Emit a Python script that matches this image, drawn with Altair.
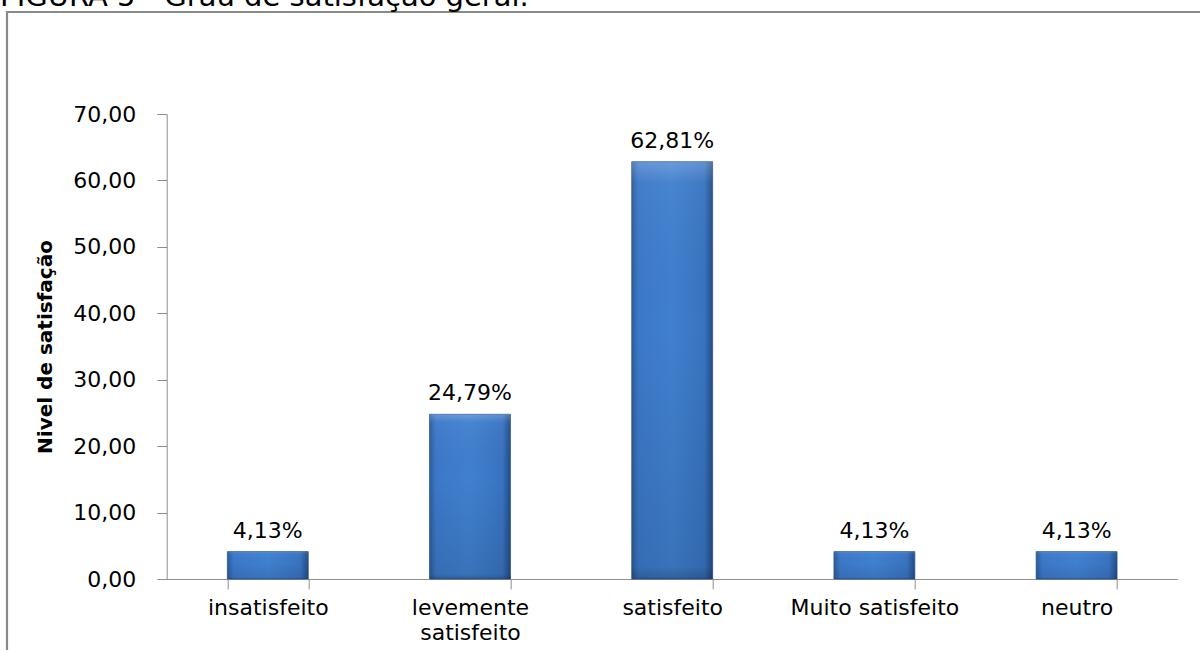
import altair as alt
import pandas as pd

categories = ["insatisfeito", "levemente satisfeito", "satisfeito", "Muito satisfeito", "neutro"]
values = [4.13, 24.79, 62.81, 4.13, 4.13]
y_ticks = [0, 10, 20, 30, 40, 50, 60, 70]
title_text = "FIGURA 5 - Grau de satisfação geral."
y_title = "Nivel de satisfação"

df = pd.DataFrame({"cat": categories, "val": values})

FONT = "DejaVu Sans"
W, H = 1011, 465
PL, PT = 166.7, 114

x_enc = alt.X(
    "cat:N",
    sort=categories,
    title=None,
    scale=alt.Scale(paddingInner=0.6, paddingOuter=0.3),
    axis=alt.Axis(
        labelAngle=0,
        labelFont=FONT,
        labelFontSize=22,
        labelColor="#000000",
        labelPadding=8,
        labelLineHeight=25,
        labelExpr="datum.value == 'levemente satisfeito' ? ['levemente', 'satisfeito'] : datum.value",
        tickBand="extent",
        tickSize=10,
        tickColor="#8f8f8f",
        domainColor="#8f8f8f",
        grid=False,
    ),
)
y_enc = alt.Y(
    "val:Q",
    title=y_title,
    scale=alt.Scale(domain=[0, 70], nice=False),
    axis=alt.Axis(
        values=y_ticks,
        labelExpr="replace(format(datum.value, '.2f'), '.', ',')",
        labelFont=FONT,
        labelFontSize=22,
        labelColor="#000000",
        labelPadding=21,
        tickSize=10,
        tickColor="#8f8f8f",
        domainColor="#8f8f8f",
        grid=False,
        titleFont=FONT,
        titleFontSize=20,
        titleFontWeight="bold",
        titleColor="#000000",
        titleAngle=-90,
        titleX=45 - PL,
        titleY=H / 2,
        titleAlign="center",
        titleBaseline="middle",
    ),
)

base = alt.Chart(df)

bars = base.mark_bar(
    color=alt.Gradient(
        gradient="linear",
        x1=0, x2=1, y1=0, y2=0,
        stops=[
            alt.GradientStop(color="#2d5c9a", offset=0),
            alt.GradientStop(color="#3c78c8", offset=0.08),
            alt.GradientStop(color="#4080cf", offset=0.5),
            alt.GradientStop(color="#3873c0", offset=0.9),
            alt.GradientStop(color="#234d86", offset=1),
        ],
    ),
    stroke="#2b5590",
    strokeWidth=0.8,
).encode(x=x_enc, y=y_enc)

shade = base.mark_bar(
    color=alt.Gradient(
        gradient="linear",
        x1=0, x2=0, y1=0, y2=1,
        stops=[
            alt.GradientStop(color="rgba(255,255,255,0.22)", offset=0),
            alt.GradientStop(color="rgba(255,255,255,0.04)", offset=0.05),
            alt.GradientStop(color="rgba(0,0,0,0.0)", offset=0.4),
            alt.GradientStop(color="rgba(0,0,0,0.10)", offset=0.97),
            alt.GradientStop(color="rgba(0,0,0,0.25)", offset=1),
        ],
    ),
).encode(x=alt.X("cat:N", sort=categories), y=alt.Y("val:Q"))

labels = base.transform_calculate(
    lbl="replace(format(datum.val, '.2f'), '.', ',') + '%'"
).mark_text(
    font=FONT, fontSize=22, color="#000000", baseline="alphabetic", dy=-14
).encode(x=alt.X("cat:N", sort=categories), y=alt.Y("val:Q"), text="lbl:N")

frame = alt.Chart(pd.DataFrame({"k": [0]})).mark_rect(
    filled=False, stroke="#8a8a8a", strokeWidth=2.2
).encode(
    x=alt.value(7 - PL), x2=alt.value(1300), y=alt.value(12 - PT), y2=alt.value(800)
)

title = alt.Chart(pd.DataFrame({"t": [title_text]})).mark_text(
    font=FONT, fontSize=29, color="#000000", align="left", baseline="alphabetic"
).encode(x=alt.value(0 - PL), y=alt.value(6 - PT), text="t:N")

chart = alt.layer(frame, bars, shade, labels, title).properties(
    width=W,
    height=H,
    background="#ffffff",
    padding={"left": PL, "top": PT, "right": 1200 - PL - W, "bottom": 650 - PT - H},
    autosize=alt.AutoSizeParams(type="none"),
).configure_view(stroke="transparent", strokeWidth=0)

chart.save("out.html", embed_options={"renderer": "svg", "actions": False})
